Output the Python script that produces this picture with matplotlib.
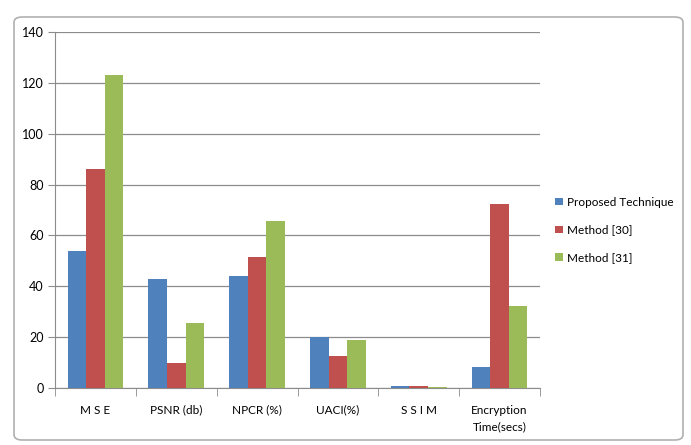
import numpy as np
import matplotlib
matplotlib.use("Agg")
import matplotlib.pyplot as plt
from matplotlib.patches import FancyBboxPatch

categories = ["M S E", "PSNR (db)", "NPCR (%)", "UACI(%)", "S S I M", "Encryption\nTime(secs)"]
proposed   = [53.8, 42.9, 44.2, 20.0, 0.6, 8.3]
method_30  = [86.2, 9.9, 51.7, 12.6, 0.6, 72.3]
method_31  = [123.2, 25.5, 65.8, 19.0, 0.5, 32.3]
series = [("Proposed Technique", proposed, "#4F81BD"),
          ("Method [30]", method_30, "#C0504D"),
          ("Method [31]", method_31, "#9BBB59")]

plt.rcParams["font.family"] = ["Lato", "DejaVu Sans"]

fig = plt.figure(figsize=(6.91, 4.45), dpi=100)
fig.patch.set_facecolor("white")

# chart frame (excel style), kept behind the axes
frame = FancyBboxPatch((14 / 691, 5 / 445), 669 / 691, 423 / 445,
                       boxstyle="round,pad=0,rounding_size=0.012",
                       transform=fig.transFigure, facecolor="white",
                       edgecolor="#B0B0B0", linewidth=1.2, zorder=-5)
fig.patches.append(frame)

ax = fig.add_axes([55 / 691, 57 / 445, 485 / 691, 356 / 445])
ax.set_zorder(2)
ax.patch.set_alpha(0)
x = np.arange(len(categories))
w = 0.23
for i, (name, vals, col) in enumerate(series):
    ax.bar(x + (i - 1) * w, vals, w, color=col, label=name, zorder=3)

ax.set_xlim(-0.5, len(categories) - 0.5)
ax.set_ylim(0, 140)
ax.set_yticks(range(0, 141, 20))
ax.grid(axis="y", color="#8C8C8C", linewidth=0.9, zorder=0)
for s in ["top", "right"]:
    ax.spines[s].set_visible(False)
ax.spines["left"].set_color("#8C8C8C")
ax.spines["bottom"].set_color("#8C8C8C")

ax.set_xticks(x)
ax.set_xticklabels(categories, fontsize=8.5, linespacing=1.6, va="top")
ax.tick_params(axis="x", length=0, pad=12)
ax.set_xticks(np.arange(-0.5, len(categories)), minor=True)
ax.tick_params(axis="x", which="minor", length=6, color="#8C8C8C", direction="out")
ax.tick_params(axis="y", length=5, color="#8C8C8C", labelsize=9, pad=3)

ax.legend(loc="center left", bbox_to_anchor=(1.01, 0.444), frameon=False,
          fontsize=8.5, handlelength=0.6, handleheight=0.6, handletextpad=0.4,
          labelspacing=1.4)

fig.savefig("out.png", dpi=100)
